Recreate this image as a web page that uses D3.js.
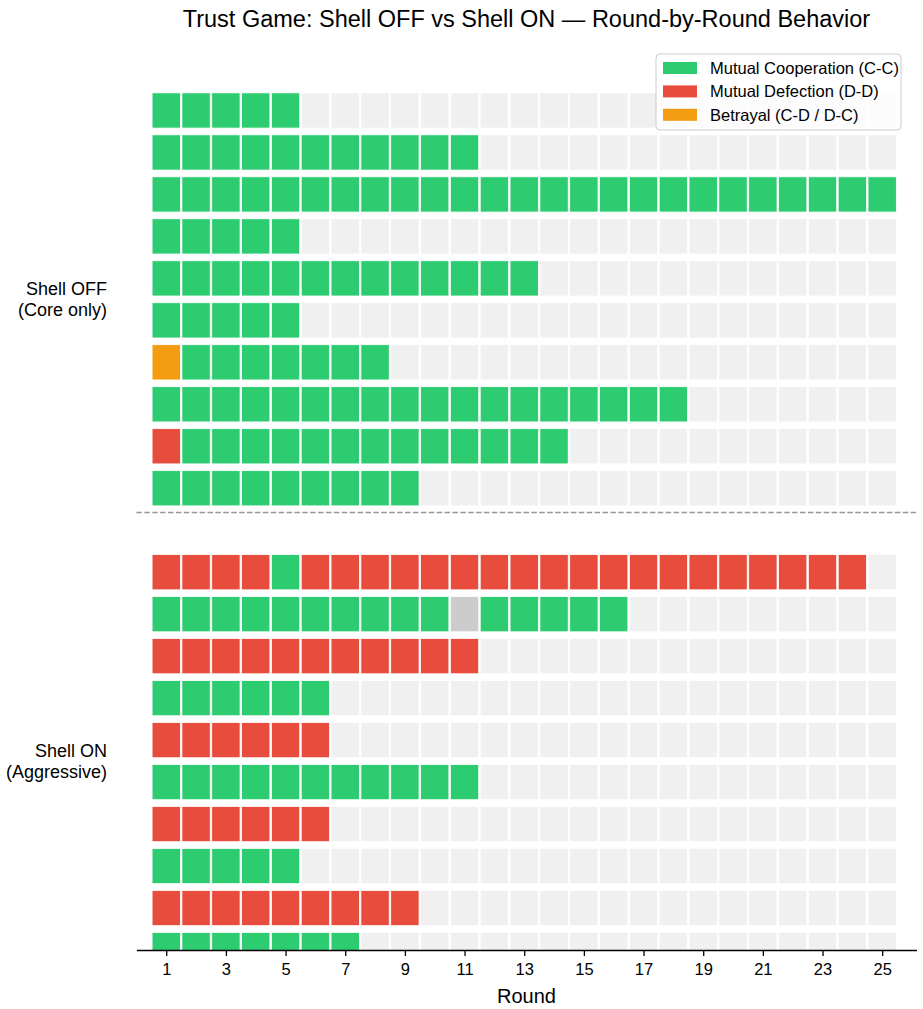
<!DOCTYPE html>
<html>
<head>
<meta charset="utf-8">
<script src="https://cdn.jsdelivr.net/npm/d3@7"></script>
<style>
  body { margin: 0; background: #fff; }
  text { font-family: "Liberation Sans", Arial, Helvetica, sans-serif; }
</style>
</head>
<body>
<div id="root"></div>
<script>
// C = mutual cooperation, D = mutual defection, B = betrayal, X = no data
var totalRounds = 25;
var groupLabels = [["Shell OFF", "(Core only)"], ["Shell ON", "(Aggressive)"]];

var shellOffGames = [
  "CCCCC",
  "CCCCCCCCCCC",
  "CCCCCCCCCCCCCCCCCCCCCCCCC",
  "CCCCC",
  "CCCCCCCCCCCCC",
  "CCCCC",
  "BCCCCCCC",
  "CCCCCCCCCCCCCCCCCC",
  "DCCCCCCCCCCCCC",
  "CCCCCCCCC"
];

var shellOnGames = [
  "DDDDCDDDDDDDDDDDDDDDDDDD",
  "CCCCCCCCCCXCCCCC",
  "DDDDDDDDDDD",
  "CCCCCC",
  "DDDDDD",
  "CCCCCCCCCCC",
  "DDDDDD",
  "CCCCC",
  "DDDDDDDDD",
  "CCCCCCC"
];

var xTicks = [1, 3, 5, 7, 9, 11, 13, 15, 17, 19, 21, 23, 25];

var legendItems = [
  { code: "C", label: "Mutual Cooperation (C-C)" },
  { code: "D", label: "Mutual Defection (D-D)" },
  { code: "B", label: "Betrayal (C-D / D-C)" }
];

var colors = { C: "#2ecc71", D: "#e74c3c", B: "#f39c12", X: "#cccccc", E: "#f0f0f0" };

var width = 923, height = 1009;
var plotLeft = 136.4, plotRight = 916.5, plotTop = 47.5, plotBottom = 950;

var svg = d3.select("#root").append("svg")
  .attr("width", width)
  .attr("height", height);

var x = d3.scaleLinear().domain([0, 26.15]).range([plotLeft, plotRight]);
var y = d3.scaleLinear().domain([-1.5, 20]).range([plotTop, plotBottom]);

// build cell list: one row per game, gap row between groups
var cells = [];
function addGroup(games, offset) {
  games.forEach(function (g, i) {
    for (var r = 1; r <= totalRounds; r++) {
      var code = r <= g.length ? g[r - 1] : "E";
      cells.push({ row: offset + i, round: r, code: code });
    }
  });
}
addGroup(shellOffGames, 0);
addGroup(shellOnGames, shellOffGames.length + 1);

svg.append("clipPath").attr("id", "plotclip")
  .append("rect")
  .attr("x", plotLeft).attr("y", plotTop)
  .attr("width", plotRight - plotLeft).attr("height", plotBottom - plotTop);

var cw = 0.95, ch = 0.84;
svg.append("g").attr("clip-path", "url(#plotclip)")
  .selectAll("rect")
  .data(cells)
  .enter()
  .append("rect")
  .attr("x", function (d) { return x(d.round - cw / 2); })
  .attr("y", function (d) { return y(d.row - ch / 2); })
  .attr("width", x(cw) - x(0))
  .attr("height", y(ch) - y(0))
  .attr("fill", function (d) { return colors[d.code]; })
  .attr("stroke", "#fff")
  .attr("stroke-width", 0.8);

// separator between the two conditions
svg.append("line")
  .attr("x1", plotLeft).attr("x2", plotRight)
  .attr("y1", y(9.58)).attr("y2", y(9.58))
  .attr("stroke", "#999")
  .attr("stroke-width", 1.5)
  .attr("stroke-dasharray", "5.5,2.4");

// x axis
var xAxis = d3.axisBottom(x).tickValues(xTicks).tickSize(6).tickSizeOuter(0).tickPadding(7);
var gx = svg.append("g")
  .attr("transform", "translate(0," + plotBottom + ")")
  .call(xAxis);
gx.attr("font-size", 16.5).attr("font-family", "'Liberation Sans', Arial, sans-serif");
gx.select(".domain").attr("stroke", "#000").attr("stroke-width", 1.3);
gx.selectAll(".tick line").attr("stroke", "#000").attr("stroke-width", 1.3);
gx.selectAll(".tick text").attr("fill", "#000");

svg.append("text")
  .attr("x", (plotLeft + plotRight) / 2)
  .attr("y", 1003)
  .attr("text-anchor", "middle")
  .attr("font-size", 20)
  .text("Round");

// group labels
var groupCenters = [4.5, 15.5];
groupLabels.forEach(function (lines, i) {
  var t = svg.append("text")
    .attr("text-anchor", "end")
    .attr("font-size", 18)
    .attr("y", y(groupCenters[i]) - 4);
  lines.forEach(function (ln, k) {
    t.append("tspan")
      .attr("x", 107)
      .attr("dy", k === 0 ? 0 : 21)
      .text(ln);
  });
});

// title
svg.append("text")
  .attr("x", (plotLeft + plotRight) / 2)
  .attr("y", 27)
  .attr("text-anchor", "middle")
  .attr("font-size", 23.5)
  .text("Trust Game: Shell OFF vs Shell ON \u2014 Round-by-Round Behavior");

// legend
var lg = svg.append("g").attr("transform", "translate(656,54)");
lg.append("rect")
  .attr("width", 245).attr("height", 76)
  .attr("rx", 4)
  .attr("fill", "#fff").attr("fill-opacity", 0.8)
  .attr("stroke", "#ccc");
var li = lg.selectAll("g.item")
  .data(legendItems)
  .enter()
  .append("g")
  .attr("class", "item")
  .attr("transform", function (d, i) { return "translate(0," + (14 + i * 23.4) + ")"; });
li.append("rect")
  .attr("x", 7).attr("y", -6)
  .attr("width", 34).attr("height", 12)
  .attr("fill", function (d) { return colors[d.code]; });
li.append("text")
  .attr("x", 54).attr("y", 0)
  .attr("dy", "0.35em")
  .attr("font-size", 16.5)
  .text(function (d) { return d.label; });
</script>
</body>
</html>
